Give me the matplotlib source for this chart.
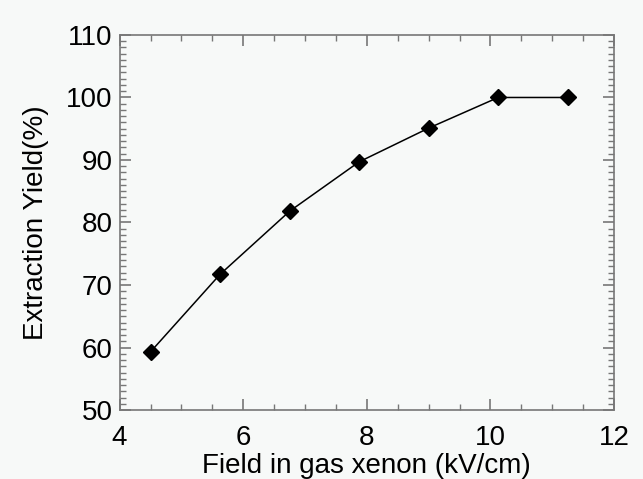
import matplotlib.pyplot as plt
from matplotlib.ticker import MultipleLocator

# data
field = [4.5, 5.625, 6.75, 7.875, 9.0, 10.125, 11.25]
yield_pct = [59.3, 71.7, 81.8, 89.7, 95.1, 100.0, 100.0]

plt.rcParams['font.family'] = ['Liberation Sans', 'DejaVu Sans']

fig = plt.figure(figsize=(6.43, 4.79), dpi=100)
fig.patch.set_facecolor('#f7f9f8')
ax = fig.add_axes([0.186, 0.144, 0.769, 0.783])
ax.set_facecolor('#f7f9f8')

ax.plot(field, yield_pct, color='black', lw=1.1, marker='D', ms=8.5, mfc='black', mec='black')

ax.set_xlim(4, 12)
ax.set_ylim(50, 110)
ax.xaxis.set_major_locator(MultipleLocator(2))
ax.xaxis.set_minor_locator(MultipleLocator(0.5))
ax.yaxis.set_major_locator(MultipleLocator(10))
ax.yaxis.set_minor_locator(MultipleLocator(1))

for s in ax.spines.values():
    s.set_color('#777777')
    s.set_linewidth(1.2)
ax.tick_params(which='both', direction='in', top=True, right=True, colors='#777777', labelcolor='black', labelsize=20)
ax.tick_params(which='major', length=8, width=1.2)
ax.tick_params(which='minor', length=4, width=1.0)
ax.tick_params(axis='y', pad=5)
ax.tick_params(axis='x', pad=11)

ax.set_xlabel('Field in gas xenon (kV/cm)', fontsize=20, labelpad=1)
ax.set_ylabel('Extraction Yield(%)', fontsize=20, labelpad=12)

fig.savefig('out.png', dpi=100, facecolor=fig.get_facecolor())
